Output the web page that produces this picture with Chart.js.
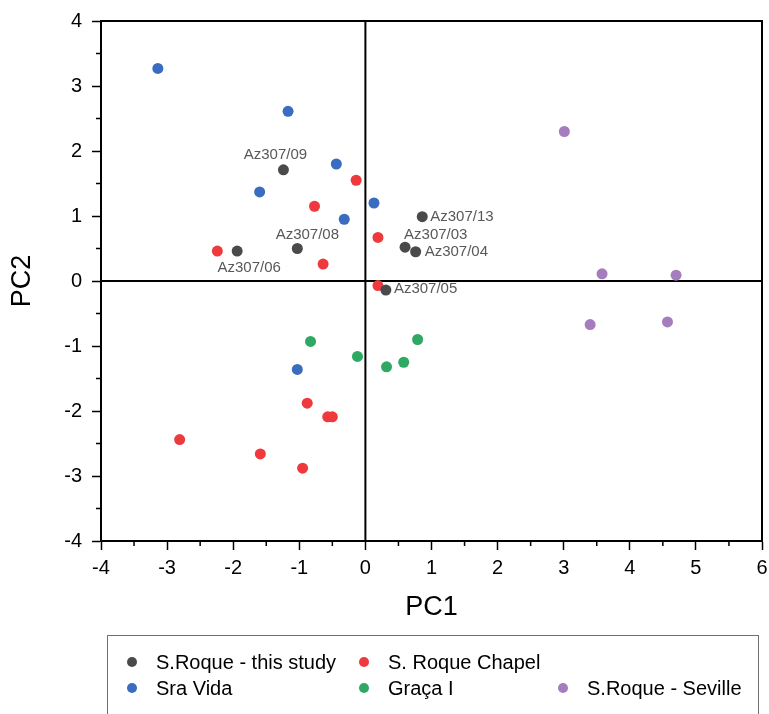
<!DOCTYPE html>
<html>
<head>
<meta charset="utf-8">
<script src="https://cdn.jsdelivr.net/npm/chart.js@4.4.1/dist/chart.umd.min.js"></script>
<style>
    html, body { margin: 0; padding: 0; background: #fff; }
    #wrap { position: relative; width: 769px; height: 714px; overflow: hidden; }
    #legend {
        position: absolute; left: 107px; top: 635px; width: 652px; height: 100px;
        border: 1px solid #707070; box-sizing: border-box;
        font-family: "Liberation Sans", Arial, sans-serif; font-size: 20px; color: #000;
    }
    .item { position: absolute; white-space: nowrap; line-height: 22px; }
    .item i { position: absolute; width: 10px; height: 10px; border-radius: 50%; left: -29px; top: 6px; }
</style>
</head>
<body>
<div id="wrap">
    <canvas id="pcaChart"></canvas>
    <div id="legend"></div>
</div>
<script>
// Scores (PC1, PC2)
const studyNames = ['Az307/09', 'Az307/08', 'Az307/06', 'Az307/13', 'Az307/03', 'Az307/04', 'Az307/05'];
const studyPC1 = [-1.24, -1.03, -1.94, 0.86, 0.60, 0.76, 0.31];
const studyPC2 = [1.71, 0.50, 0.46, 0.99, 0.52, 0.45, -0.14];

const chapelPC1 = [-0.14, -0.77, 0.19, -2.24, -0.64, 0.19, -0.88, -0.57, -0.50, -2.81, -1.59, -0.95];
const chapelPC2 = [1.55, 1.15, 0.67, 0.46, 0.26, -0.07, -1.88, -2.09, -2.09, -2.44, -2.66, -2.88];

const vidaPC1 = [-3.14, -1.17, -0.44, -1.60, 0.13, -0.32, -1.03];
const vidaPC2 = [3.27, 2.61, 1.80, 1.37, 1.20, 0.95, -1.36];

const gracaPC1 = [-0.83, -0.12, 0.79, 0.32, 0.58];
const gracaPC2 = [-0.93, -1.16, -0.90, -1.32, -1.25];

const sevillePC1 = [3.01, 3.58, 4.70, 3.40, 4.57];
const sevillePC2 = [2.30, 0.11, 0.09, -0.67, -0.63];

const xTicks = [-4, -3, -2, -1, 0, 1, 2, 3, 4, 5, 6];
const yTicks = [-4, -3, -2, -1, 0, 1, 2, 3, 4];

const colors = {
    study: '#4a4a4a',
    chapel: '#ef3a3d',
    vida: '#3a6cbf',
    graca: '#2ea862',
    seville: '#a57cbd'
};

// label placement (pixel offsets from the point, text align)
const labelStyle = [
    { dx: -8, dy: -15, align: 'center' },
    { dx: 10, dy: -14, align: 'center' },
    { dx: 12, dy: 17, align: 'center' },
    { dx: 8, dy: 0, align: 'left' },
    { dx: -1, dy: -12, align: 'left' },
    { dx: 9, dy: 0, align: 'left' },
    { dx: 8, dy: -1, align: 'left' }
];

function toPoints(xs, ys) {
    return xs.map((x, i) => ({ x: x, y: ys[i] }));
}

const FONT = '"Liberation Sans", Arial, sans-serif';

// Frame, zero lines, minor ticks and point labels
const decorPlugin = {
    id: 'decor',
    beforeDatasetsDraw(chart) {
        const { ctx, chartArea: a, scales: { x, y } } = chart;
        ctx.save();
        ctx.strokeStyle = '#000';
        ctx.lineWidth = 2;
        ctx.strokeRect(a.left, a.top, a.right - a.left, a.bottom - a.top);
        const x0 = x.getPixelForValue(0), y0 = y.getPixelForValue(0);
        ctx.beginPath();
        ctx.moveTo(x0, a.top); ctx.lineTo(x0, a.bottom);
        ctx.moveTo(a.left, y0); ctx.lineTo(a.right, y0);
        ctx.stroke();
        // minor ticks at half steps
        ctx.lineWidth = 1.5;
        ctx.beginPath();
        for (let i = 0; i < xTicks.length - 1; i++) {
            const px = x.getPixelForValue(xTicks[i] + 0.5);
            ctx.moveTo(px, a.bottom); ctx.lineTo(px, a.bottom + 5);
        }
        for (let i = 0; i < yTicks.length - 1; i++) {
            const py = y.getPixelForValue(yTicks[i] + 0.5);
            ctx.moveTo(a.left, py); ctx.lineTo(a.left - 5, py);
        }
        ctx.stroke();
        ctx.restore();
    },
    afterDatasetsDraw(chart) {
        const { ctx } = chart;
        const meta = chart.getDatasetMeta(0);
        ctx.save();
        ctx.font = '15px ' + FONT;
        ctx.fillStyle = '#595959';
        ctx.textBaseline = 'middle';
        meta.data.forEach((pt, i) => {
            const s = labelStyle[i];
            ctx.textAlign = s.align;
            ctx.fillText(studyNames[i], pt.x + s.dx, pt.y + s.dy);
        });
        ctx.restore();
    }
};

const datasets = [
    { label: 'S.Roque - this study', data: toPoints(studyPC1, studyPC2), color: colors.study },
    { label: 'S. Roque Chapel', data: toPoints(chapelPC1, chapelPC2), color: colors.chapel },
    { label: 'Sra Vida', data: toPoints(vidaPC1, vidaPC2), color: colors.vida },
    { label: 'Graça I', data: toPoints(gracaPC1, gracaPC2), color: colors.graca },
    { label: 'S.Roque - Seville', data: toPoints(sevillePC1, sevillePC2), color: colors.seville }
].map(d => ({
    label: d.label,
    data: d.data,
    backgroundColor: d.color,
    borderWidth: 0,
    pointRadius: 5.5,
    pointHoverRadius: 5.5
}));

function axisCommon(ticksList) {
    return {
        type: 'linear',
        min: ticksList[0],
        max: ticksList[ticksList.length - 1],
        afterBuildTicks: function(scale) {
            scale.ticks = ticksList.map(v => ({ value: v }));
        },
        grid: {
            drawOnChartArea: false,
            drawTicks: true,
            tickLength: 9,
            tickColor: '#000',
            tickWidth: 1.5
        },
        border: { display: true, color: '#000', width: 2 },
        ticks: {
            color: '#000',
            font: { family: FONT, size: 20 },
            callback: v => String(v)
        },
        title: {
            display: true,
            color: '#000',
            font: { family: FONT, size: 27 }
        }
    };
}

const xAxis = axisCommon(xTicks);
xAxis.ticks.padding = 6;
xAxis.title.text = 'PC1';
xAxis.title.padding = { top: 0, bottom: 6 };
xAxis.afterFit = function(scale) {
    scale.height = 89;
    scale.paddingLeft = 0;
    scale.paddingRight = 0;
};

const yAxis = axisCommon(yTicks);
yAxis.ticks.padding = 10;
yAxis.title.text = 'PC2';
yAxis.title.padding = { top: 6, bottom: 0 };
yAxis.afterFit = function(scale) {
    scale.width = 101;
    scale.paddingTop = 0;
    scale.paddingBottom = 0;
};

const canvas = document.getElementById('pcaChart');
canvas.style.width = '769px';
canvas.style.height = '714px';

new Chart(canvas, {
    type: 'scatter',
    data: { datasets: datasets },
    options: {
        responsive: false,
        maintainAspectRatio: false,
        animation: false,
        devicePixelRatio: 1,
        layout: { padding: { left: 0, right: 7, top: 21, bottom: 84 } },
        plugins: {
            legend: { display: false },
            tooltip: { enabled: false }
        },
        scales: { x: xAxis, y: yAxis }
    },
    plugins: [decorPlugin]
});

// HTML legend laid out like the reference (3 columns, 2 rows)
const legendSlots = [
    { left: 48, top: 15 },
    { left: 280, top: 15 },
    { left: 48, top: 41 },
    { left: 280, top: 41 },
    { left: 479, top: 41 }
];
const legendEl = document.getElementById('legend');
datasets.forEach((d, i) => {
    const item = document.createElement('div');
    item.className = 'item';
    item.style.left = legendSlots[i].left + 'px';
    item.style.top = legendSlots[i].top + 'px';
    item.innerHTML = '<i style="background:' + d.backgroundColor + '"></i>' + d.label;
    legendEl.appendChild(item);
});
</script>
</body>
</html>
